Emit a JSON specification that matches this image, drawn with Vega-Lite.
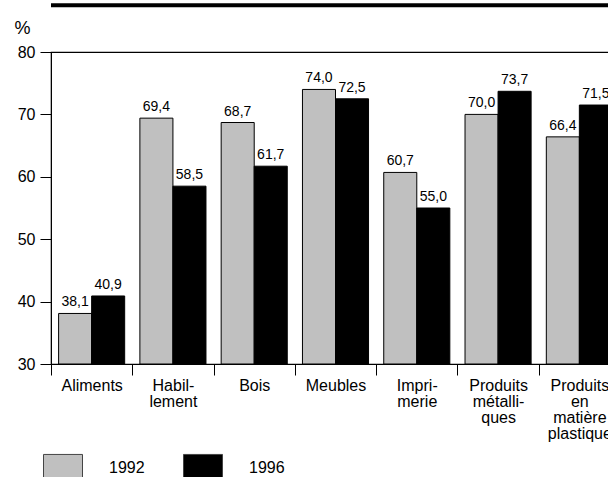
{
  "$schema": "https://vega.github.io/schema/vega-lite/v6.json",
  "autosize": {"type": "none"},
  "padding": {"left": 51, "top": 52, "right": 0, "bottom": 120},
  "width": 569,
  "height": 312,
  "config": {
    "font": "Liberation Sans",
    "view": {"stroke": "black", "strokeWidth": 1.2}
  },
  "datasets": {
    "bars": [
      {"cat": "Aliments", "year": "1992", "value": 38.1, "label": "38,1"},
      {"cat": "Aliments", "year": "1996", "value": 40.9, "label": "40,9"},
      {"cat": "Habil-|lement", "year": "1992", "value": 69.4, "label": "69,4"},
      {"cat": "Habil-|lement", "year": "1996", "value": 58.5, "label": "58,5"},
      {"cat": "Bois", "year": "1992", "value": 68.7, "label": "68,7"},
      {"cat": "Bois", "year": "1996", "value": 61.7, "label": "61,7"},
      {"cat": "Meubles", "year": "1992", "value": 74.0, "label": "74,0"},
      {"cat": "Meubles", "year": "1996", "value": 72.5, "label": "72,5"},
      {"cat": "Impri-|merie", "year": "1992", "value": 60.7, "label": "60,7"},
      {"cat": "Impri-|merie", "year": "1996", "value": 55.0, "label": "55,0"},
      {"cat": "Produits|métalli-|ques", "year": "1992", "value": 70.0, "label": "70,0"},
      {"cat": "Produits|métalli-|ques", "year": "1996", "value": 73.7, "label": "73,7"},
      {"cat": "Produits|en|matière|plastique", "year": "1992", "value": 66.4, "label": "66,4"},
      {"cat": "Produits|en|matière|plastique", "year": "1996", "value": 71.5, "label": "71,5"}
    ],
    "topline": [{"y": 87.5}]
  },
  "layer": [
    {
      "data": {"name": "bars"},
      "mark": {"type": "bar", "stroke": "black", "strokeWidth": 1},
      "encoding": {
        "x": {
          "field": "cat", "type": "nominal", "sort": null,
          "scale": {"paddingInner": 0, "paddingOuter": 0},
          "axis": {
            "title": null, "labelAngle": 0, "tickBand": "extent",
            "domainColor": "black", "tickColor": "black", "tickSize": 11,
            "labelFontSize": 16, "labelColor": "black", "labelPadding": 2,
            "labelLineHeight": 16, "labelBaseline": "top",
            "labelExpr": "split(datum.label, '|')"
          }
        },
        "xOffset": {"field": "year", "type": "nominal", "scale": {"paddingInner": 0, "paddingOuter": 0.23}},
        "y": {
          "field": "value", "type": "quantitative",
          "scale": {"domain": [30, 80], "nice": false, "zero": false},
          "axis": {
            "title": "%", "titleAngle": 0, "titleAlign": "left", "titleBaseline": "alphabetic",
            "titleX": -37, "titleY": -19, "titleFontSize": 18, "titleFontWeight": "normal", "titleColor": "black",
            "values": [30, 35, 40, 45, 50, 55, 60, 65, 70, 75, 80], "grid": false,
            "labelExpr": "datum.value % 10 === 0 ? datum.label : ''",
            "domainColor": "black", "tickColor": "black",
            "tickSize": {"condition": {"test": "datum.value % 10 !== 0", "value": 6}, "value": 11},
            "labelFontSize": 16, "labelColor": "black", "labelPadding": 5
          }
        },
        "y2": {"datum": 30},
        "fill": {
          "field": "year", "type": "nominal",
          "scale": {"domain": ["1992", "1996"], "range": ["#c0c0c0", "#000000"]},
          "legend": {
            "title": null, "orient": "none", "direction": "horizontal",
            "legendX": -8, "legendY": 396,
            "symbolType": "M-1,-0.72H1V0.72H-1Z", "symbolSize": 1521,
            "symbolStrokeColor": "#444444", "symbolStrokeWidth": 1,
            "labelFontSize": 16, "labelColor": "black", "labelOffset": 26,
            "columnPadding": 36
          }
        }
      }
    },
    {
      "data": {"name": "bars"},
      "mark": {"type": "text", "baseline": "bottom", "dy": -4, "fontSize": 14, "color": "black"},
      "encoding": {
        "x": {"field": "cat", "type": "nominal", "sort": null},
        "xOffset": {"field": "year", "type": "nominal"},
        "y": {"field": "value", "type": "quantitative"},
        "text": {"field": "label"}
      }
    },
    {
      "data": {"name": "topline"},
      "mark": {"type": "rule", "strokeWidth": 4, "color": "black"},
      "encoding": {"y": {"field": "y", "type": "quantitative"}}
    }
  ]
}
